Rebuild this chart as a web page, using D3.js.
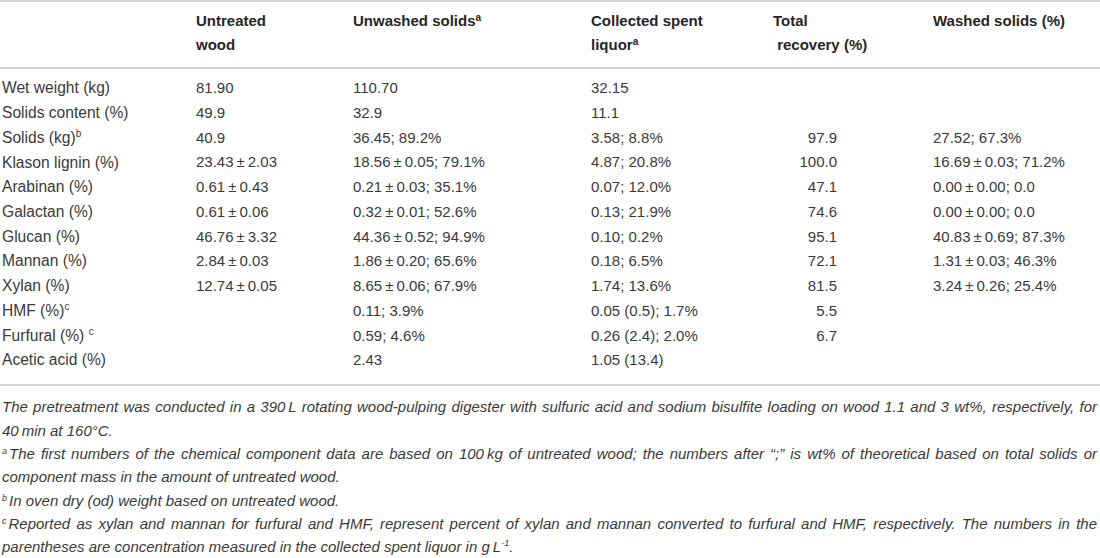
<!DOCTYPE html>
<html>
<head>
<meta charset="utf-8">
<script src="https://cdn.jsdelivr.net/npm/d3@7"></script>
<style>
  html, body { margin: 0; padding: 0; background: #fff; }
  svg { display: block; }
  text { font-family: "Liberation Sans", "DejaVu Sans", sans-serif; }
</style>
</head>
<body>
<svg id="chart" width="1100" height="558"></svg>
<script>
// ---- Data ----
const columnKeys = ["label", "untreated", "unwashed", "liquor", "recovery", "washed"];
const headerLines = [
  [],
  [["Untreated"], ["wood"]],
  [["Unwashed solids", "a"]],
  [["Collected spent"], ["liquor", "a"]],
  [["Total"], ["\u00a0recovery (%)"]],
  [["Washed solids (%)"]]
];
const rowLabels = ["Wet weight (kg)", "Solids content (%)", "Solids (kg)", "Klason lignin (%)", "Arabinan (%)",
  "Galactan (%)", "Glucan (%)", "Mannan (%)", "Xylan (%)", "HMF (%)", "Furfural (%)\u00a0", "Acetic acid (%)"];
const rowSup = ["", "", "b", "", "", "", "", "", "", "c", "c", ""];
const PM = "\u2009\u00b1\u2009";
const untreated = ["81.90", "49.9", "40.9", "23.43" + PM + "2.03", "0.61" + PM + "0.43", "0.61" + PM + "0.06",
  "46.76" + PM + "3.32", "2.84" + PM + "0.03", "12.74" + PM + "0.05", "", "", ""];
const unwashed = ["110.70", "32.9", "36.45; 89.2%", "18.56" + PM + "0.05; 79.1%", "0.21" + PM + "0.03; 35.1%",
  "0.32" + PM + "0.01; 52.6%", "44.36" + PM + "0.52; 94.9%", "1.86" + PM + "0.20; 65.6%",
  "8.65" + PM + "0.06; 67.9%", "0.11; 3.9%", "0.59; 4.6%", "2.43"];
const liquor = ["32.15", "11.1", "3.58; 8.8%", "4.87; 20.8%", "0.07; 12.0%", "0.13; 21.9%", "0.10; 0.2%",
  "0.18; 6.5%", "1.74; 13.6%", "0.05 (0.5); 1.7%", "0.26 (2.4); 2.0%", "1.05 (13.4)"];
const recovery = ["", "", "97.9", "100.0", "47.1", "74.6", "95.1", "72.1", "81.5", "5.5", "6.7", ""];
const washed = ["", "", "27.52; 67.3%", "16.69" + PM + "0.03; 71.2%", "0.00" + PM + "0.00; 0.0",
  "0.00" + PM + "0.00; 0.0", "40.83" + PM + "0.69; 87.3%", "1.31" + PM + "0.03; 46.3%",
  "3.24" + PM + "0.26; 25.4%", "", "", ""];
const footnotes = [
  { sup: "", text: "The pretreatment was conducted in a 390\u2009L rotating wood-pulping digester with sulfuric acid and sodium bisulfite loading on wood 1.1 and 3 wt%, respectively, for", justify: true },
  { sup: "", text: "40\u2009min at 160°C.", justify: false },
  { sup: "a", text: "The first numbers of the chemical component data are based on 100\u2009kg of untreated wood; the numbers after \u201c;\u201d is wt% of theoretical based on total solids or", justify: true },
  { sup: "", text: "component mass in the amount of untreated wood.", justify: false },
  { sup: "b", text: "In oven dry (od) weight based on untreated wood.", justify: false },
  { sup: "c", text: "Reported as xylan and mannan for furfural and HMF, represent percent of xylan and mannan converted to furfural and HMF, respectively. The numbers in the", justify: true },
  { sup: "", text: "parentheses are concentration measured in the collected spent liquor in g\u2009L", tail: "-1", after: ".", justify: false }
];

// ---- Layout ----
const W = 1100, H = 558;
const svg = d3.select("#chart");
const textColor = "#3a3a3a";
const lineColor = "#c4c4c4";
const fs = 15;

const x = d3.scaleOrdinal().domain(columnKeys).range([2, 196, 353, 591, 773, 933]);
const y = d3.scalePoint().domain(rowLabels).range([88, 360]);
const headerY = d3.scalePoint().domain([0, 1]).range([21, 45]);
const footY = d3.scalePoint().domain(d3.range(footnotes.length)).range([407, 547]);

// rules
[1, 68, 385].forEach(v => {
  svg.append("line").attr("x1", 0).attr("x2", W).attr("y1", v).attr("y2", v)
    .attr("stroke", lineColor).attr("stroke-width", 1.6);
});

// header
headerLines.forEach((lines, ci) => {
  lines.forEach((parts, li) => {
    const t = svg.append("text")
      .attr("x", x(columnKeys[ci]))
      .attr("y", headerY(li) + 5.3)
      .attr("font-size", fs).attr("font-weight", "bold").attr("fill", "#262626");
    t.append("tspan").text(parts[0]);
    if (parts[1]) t.append("tspan").attr("font-size", 10).attr("dy", -5.5).text(parts[1]);
  });
});

// body
const columns = { untreated, unwashed, liquor, recovery, washed };
rowLabels.forEach((lab, ri) => {
  const t = svg.append("text").attr("x", x("label")).attr("y", y(lab) + 5.4)
    .attr("font-size", 15.6).attr("fill", textColor);
  t.append("tspan").text(lab);
  if (rowSup[ri]) t.append("tspan").attr("font-size", 10).attr("dy", -6).text(rowSup[ri]);
});
Object.entries(columns).forEach(([key, vals]) => {
  const isRight = key === "recovery";
  svg.append("g").selectAll("text").data(vals).join("text")
    .attr("x", isRight ? 837 : x(key))
    .attr("text-anchor", isRight ? "end" : "start")
    .attr("y", (d, i) => y(rowLabels[i]) + 5.3)
    .attr("font-size", fs).attr("fill", textColor)
    .text(d => d);
});

// footnotes
const footFs = 15;
footnotes.forEach((f, i) => {
  const t = svg.append("text").attr("x", 2).attr("y", footY(i) + 5.2)
    .attr("font-size", footFs).attr("font-style", "italic").attr("fill", textColor);
  if (f.sup) t.append("tspan").attr("font-size", 9).attr("dy", -5).text(f.sup);
  const main = t.append("tspan").text(f.text);
  if (f.sup) main.attr("dx", 2).attr("dy", 5);
  if (f.tail) {
    t.append("tspan").attr("font-size", 9).attr("dy", -6).text(f.tail);
    t.append("tspan").attr("dy", 6).text(f.after);
  }
  if (f.justify) {
    const natural = t.node().getComputedTextLength();
    const spaces = (f.text.match(/ /g) || []).length;
    const target = 1097 - 2 - (f.sup ? 2 : 0);
    if (spaces > 0) t.attr("word-spacing", (target - natural) / spaces);
  }
});
</script>
</body>
</html>
